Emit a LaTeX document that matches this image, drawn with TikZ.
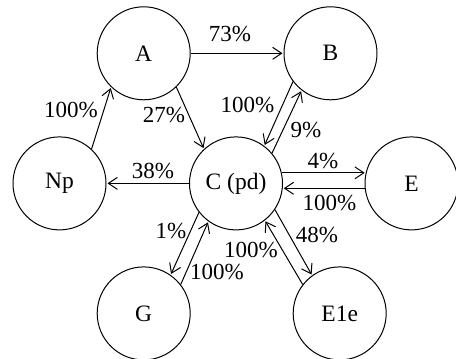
\documentclass[tikz,border=0pt]{standalone}
\usepackage{fontspec}
\setmainfont{Liberation Serif}
\usetikzlibrary{arrows.meta}
\begin{document}
\begin{tikzpicture}[x=1pt,y=-1pt,
  state/.style={draw,circle,line width=1pt,minimum size=93pt,inner sep=0pt,font=\fontsize{23.5}{27}\selectfont},
  lbl/.style={inner sep=0pt,font=\fontsize{23}{27}\selectfont},
  arr/.style={line width=1pt,-{Straight Barb[length=9pt,width=12pt,line width=1pt]},shorten >=1pt}]
\useasboundingbox (0,0) rectangle (456,359);
\node[state] (A) at (143.7,53.3) {A};
\node[state] (B) at (330.5,53.3) {B};
\node[state] (Np) at (59.5,183.4) {Np};
\node[state] (C) at (236,183.4) {C (pd)};
\node[state] (E) at (411.5,183.4) {E};
\node[state] (G) at (143.7,313.4) {G};
\node[state] (E1e) at (339.7,313.4) {E1e};
\draw[arr] (A.0) -- (B.180);
\draw[arr] (Np.47) -- (A.226);
\draw[arr] (A.314) -- (C.133);
\draw[arr] (C.180) -- (Np.0);
\draw[arr] (B.217) -- (C.53);
\draw[arr] (C.40) -- (B.232);
\draw[arr] (C.13) -- (E.167);
\draw[arr] (E.186) -- (C.354);
\draw[arr] (C.218) -- (G.55);
\draw[arr] (G.38) -- (C.234);
\draw[arr] (E1e.142) -- (C.308);
\draw[arr] (C.326) -- (E1e.126);
\node[lbl] (l73) at (230,34) {73\%};
\node[lbl] (lNpA) at (71,110) {100\%};
\node[lbl] (l27) at (164,115) {27\%};
\node[lbl] (l38) at (153,171.5) {38\%};
\node[lbl] (lBC) at (247.5,105) {100\%};
\node[lbl] (l9) at (306,130) {9\%};
\node[lbl] (l4) at (323,161.5) {4\%};
\node[lbl] (lEC) at (329.5,203) {100\%};
\node[lbl] (l1) at (171,231) {1\%};
\node[lbl] (lGC) at (217,272) {100\%};
\node[lbl] (lE1eC) at (251,250) {100\%};
\node[lbl] (l48) at (317,235) {48\%};
\end{tikzpicture}
\end{document}
